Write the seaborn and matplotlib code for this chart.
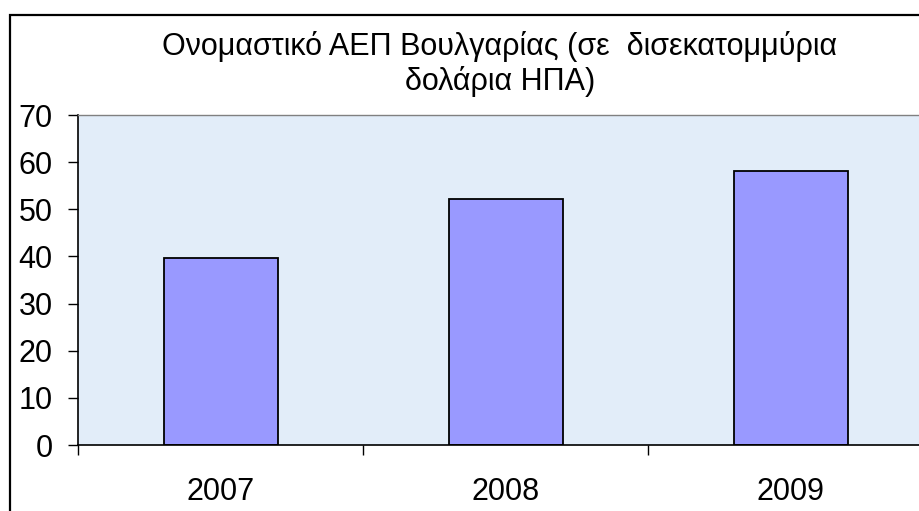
import matplotlib
matplotlib.use("Agg")
import matplotlib.pyplot as plt
import seaborn as sns
import pandas as pd
from matplotlib.patches import Rectangle
from matplotlib.ticker import FixedLocator

years = ["2007", "2008", "2009"]
gdp = [39.7, 52.2, 58.2]
title_text = "Ονομαστικό ΑΕΠ Βουλγαρίας (σε  δισεκατομμύρια\nδολάρια ΗΠΑ)"
yticks = [0, 10, 20, 30, 40, 50, 60, 70]

sns.set_theme(style="white")
plt.rcParams['font.family'] = ['Liberation Sans', 'DejaVu Sans']

W, H = 920, 511
fig = plt.figure(figsize=(W / 100, H / 100), dpi=100)
fig.patch.set_facecolor("white")

left, right, top, bottom = 78, 933, 115, 445
ax = fig.add_axes([left / W, 1 - bottom / H, (right - left) / W, (bottom - top) / H])
ax.set_facecolor("#E2EDF9")

df = pd.DataFrame({"year": years, "gdp": gdp})
sns.barplot(data=df, x="year", y="gdp", color="#9999FF", width=0.4,
            edgecolor="black", linewidth=1.3, saturation=1, ax=ax)

ax.set_xlim(-0.5, 2.5)
ax.set_ylim(0, 70)
ax.set_yticks(yticks)
ax.set_xlabel("")
ax.set_ylabel("")

ax.tick_params(axis="y", which="major", length=7.2, width=1, color="black",
               pad=11, labelsize=22, labelcolor="black", left=True)
ax.tick_params(axis="x", which="major", length=0, pad=23, labelsize=22,
               labelcolor="black", bottom=True)
ax.xaxis.set_minor_locator(FixedLocator([-0.5, 0.5, 1.5, 2.5]))
ax.tick_params(axis="x", which="minor", length=7.2, width=1, color="black",
               bottom=True)

for s in ["left", "bottom"]:
    ax.spines[s].set_color("black")
    ax.spines[s].set_linewidth(1.2)
ax.spines["top"].set_color("#808080")
ax.spines["top"].set_linewidth(1)
ax.spines["right"].set_visible(False)

fig.text(500 / W, 1 - 31 / H, title_text, ha="center", va="top",
         fontsize=22, color="black", linespacing=1.15)

border = Rectangle((10 / W, -0.1), 1.2, 1 - 15 / H + 0.1, transform=fig.transFigure,
                   fill=False, edgecolor="black", linewidth=1.6)
fig.patches.append(border)

fig.savefig("out.png", dpi=100)
